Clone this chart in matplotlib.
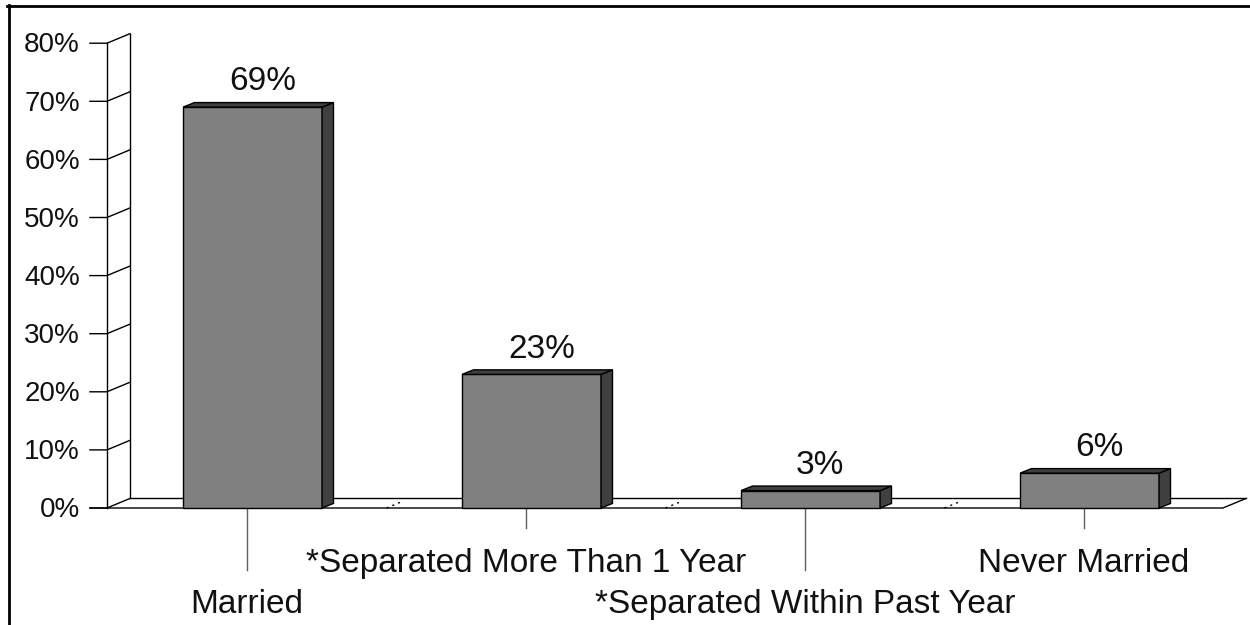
#!/usr/bin/env python3

# Marital status bar chart, drawn in the old "3-D column" style
# (front face + darker side and top), on a single full-figure axes.

import matplotlib as mpl
mpl.use('Agg')
import matplotlib.pyplot as plt
from matplotlib.patches import Polygon
from matplotlib.lines import Line2D

plt.rcParams['font.family'] = ['Liberation Sans', 'DejaVu Sans']

# Data
categories = ['Married', '*Separated More Than 1 Year',
              '*Separated Within Past Year', 'Never Married']
values = [69, 23, 3, 6]
value_labels = ['69%', '23%', '3%', '6%']
yticks = [0, 10, 20, 30, 40, 50, 60, 70, 80]
ytick_labels = ['0%', '10%', '20%', '30%', '40%', '50%', '60%', '70%', '80%']

# Figure: 1250 x 625 px. One axes covering everything, so that
# 1 x-unit = one category slot (279 px) and 1 y-unit = 1 % (5.81 px)
fig = plt.figure(figsize=(12.5, 6.25), dpi=100)
ax = fig.add_axes([0, 0, 1, 1])
ax.set_xlim(-247 / 279, (1250 - 247) / 279)
ax.set_ylim((508 - 625) / 5.81, 508 / 5.81)
ax.axis('off')

# 3-D depth of the floor/wall and of the bars (data units)
wall_dx, wall_dy = 0.0824, 1.64
bar_dx, bar_dy = 0.041, 0.78
bar_w = 0.498
bar_shift = 0.02

front_x = -0.502      # front vertical axis
tick_x0 = -0.563      # left end of tick marks
floor_end = 3.498     # right end of the floor front edge
line_kw = dict(color='black', lw=1.0)
txt_col = '#111111'

# left wall
ax.plot([front_x, front_x], [0, yticks[-1]], **line_kw)
ax.plot([front_x + wall_dx] * 2, [wall_dy, yticks[-1] + wall_dy], **line_kw)
for t, lab in zip(yticks, ytick_labels):
    ax.plot([tick_x0, front_x, front_x + wall_dx], [t, t, t + wall_dy], **line_kw)
    ax.text(-0.599, t - 1.6, lab, ha='right', va='baseline', fontsize=20,
            color=txt_col)

# floor
ax.plot([tick_x0, floor_end, floor_end + wall_dx], [0, 0, wall_dy], **line_kw)
ax.plot([front_x + wall_dx, floor_end + wall_dx], [wall_dy, wall_dy], **line_kw)

# dotted grid marks on the floor between categories
for i in range(len(categories) - 1):
    ax.plot([i + 0.5, i + 0.5 + wall_dx * 0.6], [0, wall_dy * 0.6],
            color='black', lw=1.0, ls=(0, (1.5, 3)))

# bars
xs = [i + bar_shift for i in range(len(values))]
ax.bar(xs, values, width=bar_w, color='#808080', edgecolor='black',
       linewidth=1.0, zorder=3)
for x, v, lab in zip(xs, values, value_labels):
    xl, xr = x - bar_w / 2, x + bar_w / 2
    side = [(xr, 0), (xr + bar_dx, bar_dy), (xr + bar_dx, v + bar_dy), (xr, v)]
    top = [(xl, v), (xl + bar_dx, v + bar_dy), (xr + bar_dx, v + bar_dy), (xr, v)]
    for pts in (side, top):
        ax.add_patch(Polygon(pts, closed=True, facecolor='#404040',
                             edgecolor='black', lw=1.0, zorder=3))
    ax.text(x + 0.035, v + bar_dy + 2.1, lab, ha='center', va='baseline',
            fontsize=24, color=txt_col)

# category tick lines and staggered labels
for i, cat in enumerate(categories):
    low = (i % 2 == 0)
    ax.plot([i, i], [0, -10.7 if low else -3.44], color='#606060', lw=1.0)
    ax.text(i, -18.12 if low else -11.1, cat, ha='center', va='baseline',
            fontsize=24, color=txt_col)

# black frame on top and left
fig.add_artist(Line2D([7 / 1250, 1], [1 - 6.3 / 625] * 2,
                      transform=fig.transFigure, color='black', lw=2.0))
fig.add_artist(Line2D([8.5 / 1250] * 2, [0, 1 - 5 / 625],
                      transform=fig.transFigure, color='black', lw=2.0))

plt.savefig('out.png', dpi=100)
plt.close()
